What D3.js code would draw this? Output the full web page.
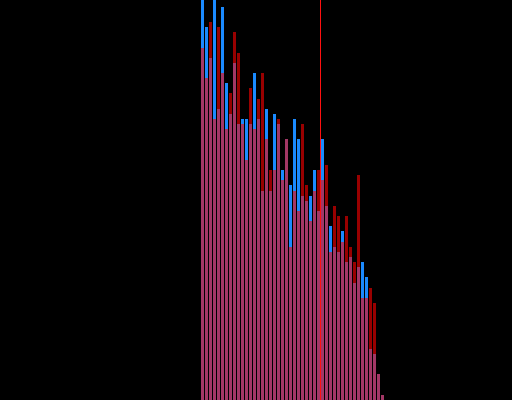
<!DOCTYPE html>
<html>
<head>
<meta charset="utf-8">
<script src="https://cdn.jsdelivr.net/npm/d3@7"></script>
<style>
  html, body { margin: 0; padding: 0; background: #000; }
  #graph { width: 512px; height: 400px; overflow: hidden; }
</style>
</head>
<body>
<div id="graph"></div>
<script>

// bin index of each bar
var bins = d3.range(46);

// counts per bin, two overlapping series
var blueCounts = [80, 73, 67, 82, 57, 77, 62, 56, 66, 54, 55, 55, 54, 64, 55, 41,
  57, 41, 56, 54, 45, 51, 42, 55, 51, 40, 39, 40, 45, 37, 51, 38, 34, 30, 29, 33,
  27, 28, 23, 26, 27, 24, 10, 9, 5, 1];
var redCounts = [69, 63, 74, 55, 73, 64, 53, 60, 72, 68, 54, 47, 61, 53, 59, 64,
  51, 45, 45, 55, 43, 51, 30, 41, 37, 54, 42, 35, 41, 45, 43, 46, 29, 38, 36, 31,
  36, 30, 27, 44, 20, 20, 22, 19, 5, 1];

// marker line position, in bin units
var markerValue = 29.875;

var width = 512;
var height = 400;

// x in bin units, y in counts
var x = d3.scaleLinear().domain([0, bins.length]).range([201, 385]);
var y = d3.scaleLinear().domain([0, 78.3]).range([height, 0]);

var svg = d3.select('#graph')
  .append('svg')
  .attr('width', width)
  .attr('height', height)
  .attr('shape-rendering', 'crispEdges');

svg.append('rect')
  .attr('width', width)
  .attr('height', height)
  .attr('fill', '#000');

// blue series first, opaque
svg.append('g')
  .selectAll('rect')
  .data(bins)
  .enter().append('rect')
    .attr('x', function(d) { return x(d); })
    .attr('width', function(d) { return x(d + 1) - x(d) - 1; })
    .attr('y', function(d) { return y(blueCounts[d]); })
    .attr('height', function(d) { return height - y(blueCounts[d]); })
    .attr('fill', '#1a8aff');

// red series on top, semi transparent
svg.append('g')
  .selectAll('rect')
  .data(bins)
  .enter().append('rect')
    .attr('x', function(d) { return x(d); })
    .attr('width', function(d) { return x(d + 1) - x(d) - 1; })
    .attr('y', function(d) { return y(redCounts[d]); })
    .attr('height', function(d) { return height - y(redCounts[d]); })
    .attr('fill', '#ff0000')
    .attr('fill-opacity', 0.6);

// vertical marker
svg.append('line')
  .attr('x1', x(markerValue))
  .attr('x2', x(markerValue))
  .attr('y1', 0)
  .attr('y2', height)
  .attr('stroke', '#ff1010')
  .attr('stroke-width', 1)
  .attr('shape-rendering', 'auto');

</script>
</body>
</html>
